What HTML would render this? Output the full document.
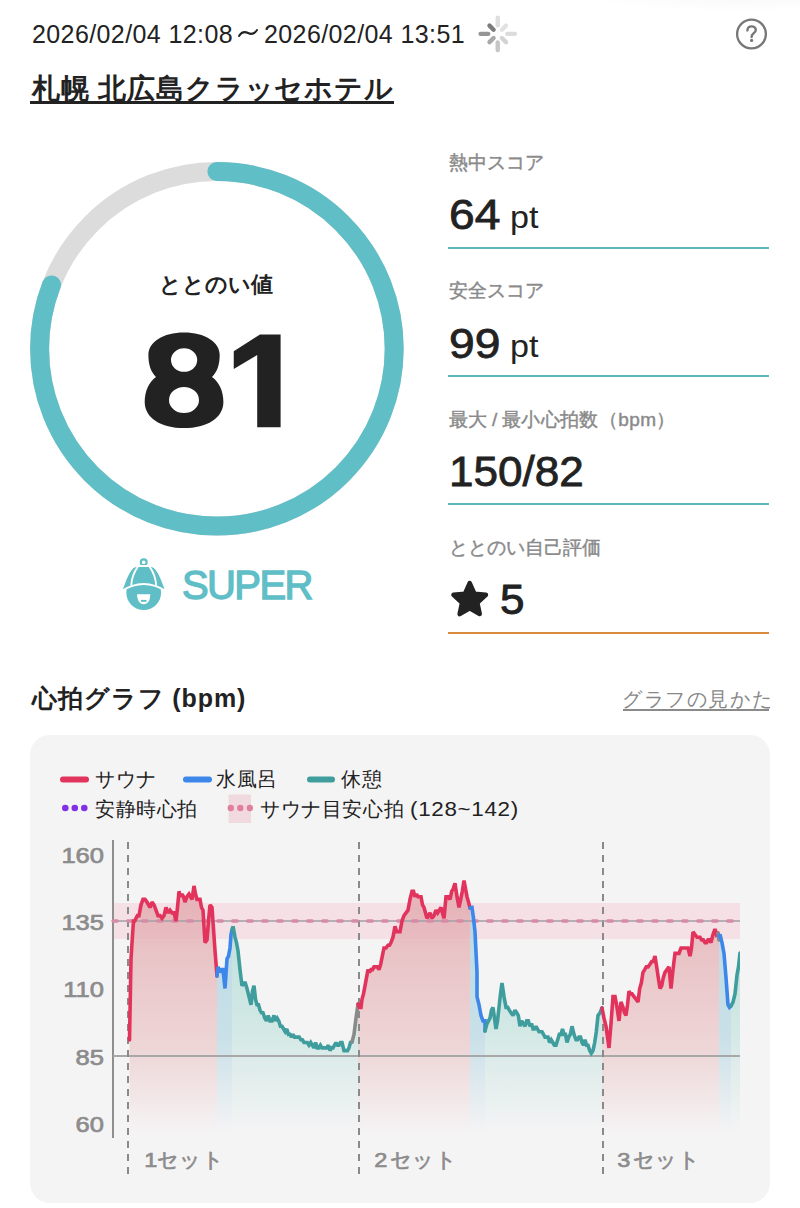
<!DOCTYPE html>
<html lang="ja">
<head>
<meta charset="utf-8">
<style>
html,body{margin:0;padding:0;background:#fff;}
body{width:800px;height:1208px;position:relative;overflow:hidden;font-family:"Liberation Sans",sans-serif;color:#222;}
.a{position:absolute;white-space:nowrap;line-height:1;}
#date,#date2{left:32px;top:21.5px;font-size:25px;color:#222;letter-spacing:0.4px;}
#date2{left:264px;}
#title{left:32px;top:75px;font-size:28px;font-weight:bold;color:#222;letter-spacing:0.85px;}
#title-ul{left:30px;top:101px;width:364px;height:3px;background:#222;}
.lbl{font-size:19px;color:#8a8a8a;left:449px;-webkit-text-stroke:0.45px #8a8a8a;}
.val{font-size:42px;font-weight:normal;-webkit-text-stroke:0.8px #222;left:449px;color:#222;transform:scaleX(1.1);transform-origin:0 0;}
.unit{font-size:31px;font-weight:normal;color:#222;transform:scaleX(1.1);transform-origin:0 0;}
.hr{position:absolute;left:448px;width:321px;height:2px;background:#5db6bc;}
#gl{left:32px;top:686px;font-size:25px;font-weight:bold;letter-spacing:0.9px;}
#howto{left:622px;top:689px;font-size:20.2px;color:#888;letter-spacing:1.6px;}
#howto-ul{left:623px;top:708.5px;width:146px;height:2px;background:#8a8a8a;}
#card{position:absolute;left:30px;top:735px;width:740px;height:468px;background:#f5f4f5;border-radius:20px;}
.lg{font-size:20px;color:#222;letter-spacing:0.6px;}
.ax{font-size:22px;font-weight:normal;-webkit-text-stroke:0.7px #8c8c8c;color:#8c8c8c;text-align:right;width:60px;left:44px;transform:scaleX(1.16);transform-origin:100% 0;}
.set{font-size:21px;font-weight:normal;-webkit-text-stroke:0.7px #8c8c8c;color:#8c8c8c;letter-spacing:0.3px;}
.set b{font-weight:normal;margin-right:3px;display:inline-block;transform:scaleX(1.12);}
</style>
</head>
<body>
<div class="a" style="left:560px;top:-30px;width:300px;height:42px;border-radius:50%;background:radial-gradient(ellipse at 60% 40%, rgba(0,0,0,0.045), rgba(0,0,0,0) 70%)"></div>
<div class="a" id="date">2026/02/04 12:08</div>
<svg class="a" style="left:236px;top:25.5px" width="24" height="14" viewBox="0 0 24 14"><path d="M3,10 C5.5,6 8.5,5.2 12,7 C15.5,8.8 18.5,8 21,4" fill="none" stroke="#222" stroke-width="2" stroke-linecap="round"/></svg>
<div class="a" id="date2">2026/02/04 13:51</div>
<svg class="a" style="left:478px;top:15px" width="40" height="40" viewBox="0 0 40 40">
  <g stroke-linecap="round" stroke-width="4.4">
    <line x1="19.75" y1="2.6" x2="19.75" y2="10.2" stroke="#dedede"/>
    <line x1="28.0" y1="10.6" x2="23.9" y2="14.7" stroke="#e2e2e2"/>
    <line x1="36.9" y1="18.85" x2="29.3" y2="18.85" stroke="#dcdcdc"/>
    <line x1="28.0" y1="27.1" x2="23.9" y2="23.0" stroke="#d4d4d4"/>
    <line x1="19.75" y1="35.1" x2="19.75" y2="27.5" stroke="#c6c6c6"/>
    <line x1="11.5" y1="27.1" x2="15.6" y2="23.0" stroke="#a9a9a9"/>
    <line x1="2.6" y1="18.85" x2="10.2" y2="18.85" stroke="#959595"/>
    <line x1="11.5" y1="10.6" x2="15.6" y2="14.7" stroke="#7c7c7c"/>
  </g>
</svg>
<svg class="a" style="left:734px;top:17px" width="36" height="36" viewBox="0 0 36 36">
  <circle cx="17.5" cy="17" r="14.4" fill="none" stroke="#777" stroke-width="2.3"/>
  <path d="M13.4,13.4 C13.4,10.8 15.2,9.4 17.6,9.4 C20.0,9.4 21.8,11.0 21.8,13.1 C21.8,15.1 20.4,15.9 19.2,16.7 C18.1,17.4 17.6,18.1 17.6,19.9" fill="none" stroke="#777" stroke-width="2.4" stroke-linecap="round"/>
  <circle cx="17.6" cy="23.4" r="1.6" fill="#777"/>
</svg>
<div class="a" id="title">札幌 北広島クラッセホテル</div>
<div class="a" id="title-ul"></div>

<!-- ring -->
<svg class="a" style="left:0;top:130px" width="430" height="420" viewBox="0 130 430 420">
  <circle cx="216.9" cy="348.8" r="177.3" fill="none" stroke="#dcdcdc" stroke-width="19"/>
  <circle cx="216.9" cy="348.8" r="177.3" fill="none" stroke="#5fbec6" stroke-width="19" stroke-linecap="round"
    stroke-dasharray="900.5 2000" transform="rotate(-90 216.9 348.8)"/>
</svg>
<div class="a" style="left:159px;top:274px;font-size:22px;font-weight:bold;color:#222">ととのい値</div>
<svg class="a" style="left:130px;top:320px" width="170" height="120" viewBox="130 320 170 120">
  <path fill-rule="evenodd" fill="#222" d="M184,332.5 C205,332.5 219.7,342 219.7,355 C219.7,365 217,372 212,377 C219,382 223.4,391 223.4,402 C223.4,418 207,428.1 184,428.1 C161,428.1 144.7,418 144.7,402 C144.7,391 149,382 156,377 C151,372 148.4,365 148.4,355 C148.4,342 163,332.5 184,332.5 Z M171,360.1 A13.1,11.75 0 1,0 197.2,360.1 A13.1,11.75 0 1,0 171,360.1 Z M169,400 A15,13.1 0 1,0 199,400 A15,13.1 0 1,0 169,400 Z"/>
  <path fill="#222" d="M233.75,351.25 L260,334.4 L280.6,334.4 L280.6,427.2 L257.2,427.2 L257.2,355 L233.75,369 Z"/>
</svg>

<!-- SUPER -->
<svg class="a" style="left:115px;top:550px" width="60" height="65" viewBox="115 550 60 65">
  <circle cx="143.7" cy="592.6" r="17.4" fill="#5fbec6"/>
  <path d="M137.1,594.2 L150.3,594.2 C150.3,600 147.9,604.2 143.7,604.2 C139.5,604.2 137.1,600 137.1,594.2 Z" fill="#fff"/>
  <rect x="140.9" y="599.9" width="5.6" height="1.9" fill="#5fbec6"/>
  <rect x="140.85" y="559.3" width="5.7" height="5.9" rx="2.6" fill="none" stroke="#5fbec6" stroke-width="2.2"/>
  <path d="M121,591.4 C124.5,583 127,572 133,567.3 Q134.5,566 137,566 L150.4,566 Q152.9,566 154.4,567.3 C160.4,572 162.9,583 166.4,591.4 Q143.7,576.6 121,591.4 Z" fill="#5fbec6" stroke="#fff" stroke-width="2" stroke-linejoin="round"/>
  <path d="M137.8,566.8 C134.2,571.8 131.6,578 131.2,585.6" fill="none" stroke="#fff" stroke-width="1.9"/>
  <path d="M149.6,566.8 C153.2,571.8 155.8,578 156.2,585.6" fill="none" stroke="#fff" stroke-width="1.9"/>
</svg>
<div class="a" style="left:182px;top:565px;font-size:40px;font-weight:normal;color:#5fbec6;-webkit-text-stroke:1.3px #5fbec6;letter-spacing:-1.6px">SUPER</div>

<!-- right column -->
<div class="a lbl" style="top:153px">熱中スコア</div>
<div class="a val" style="top:194px">64</div><div class="a unit" style="left:510px;top:202px">pt</div>
<div class="hr" style="top:247px"></div>
<div class="a lbl" style="top:281px">安全スコア</div>
<div class="a val" style="top:322.5px">99</div><div class="a unit" style="left:510px;top:330.5px">pt</div>
<div class="hr" style="top:375px"></div>
<div class="a lbl" style="top:410px"><span style="letter-spacing:0.4px">最大&thinsp;/&thinsp;最小心拍数（bpm）</span></div>
<div class="a val" style="top:450.5px;transform:scaleX(1.05)">150/82</div>
<div class="hr" style="top:503px"></div>
<div class="a lbl" style="top:538px">ととのい自己評価</div>
<svg class="a" style="left:448px;top:578px" width="44" height="42" viewBox="448 578 44 42">
  <polygon points="469.7,583.2 474.4,593.7 485.9,594.9 477.3,602.7 479.7,614.0 469.7,608.2 459.7,614.0 462.1,602.7 453.5,594.9 465.0,593.7" fill="#222" stroke="#222" stroke-width="4.6" stroke-linejoin="round"/>
</svg>
<div class="a" style="left:500px;top:579px;font-size:42px;color:#222;-webkit-text-stroke:0.9px #222;transform:scaleX(1.05);transform-origin:0 0">5</div>
<div class="hr" style="top:632px;background:#d98a3e"></div>

<div class="a" id="gl">心拍グラフ (bpm)</div>
<div class="a" id="howto">グラフの見かた</div>
<div class="a" id="howto-ul"></div>

<div id="card"></div>
<svg class="a" style="left:0;top:0" width="800" height="1208" viewBox="0 0 800 1208">
<defs>
<linearGradient id="gr" gradientUnits="userSpaceOnUse" x1="0" y1="890" x2="0" y2="1135"><stop offset="0" stop-color="#e6b3b9"/><stop offset="0.25" stop-color="#e9c3c6"/><stop offset="0.65" stop-color="#eed6d7" /><stop offset="1" stop-color="#f5f4f5"/></linearGradient>
<linearGradient id="gb" gradientUnits="userSpaceOnUse" x1="0" y1="890" x2="0" y2="1135"><stop offset="0" stop-color="#b9d9e4"/><stop offset="0.6" stop-color="#c9e0e8"/><stop offset="1" stop-color="#f5f4f5"/></linearGradient>
<linearGradient id="gt" gradientUnits="userSpaceOnUse" x1="0" y1="920" x2="0" y2="1135"><stop offset="0" stop-color="#bfe0dc"/><stop offset="0.5" stop-color="#d2e8e5"/><stop offset="1" stop-color="#f5f4f5"/></linearGradient>
<clipPath id="cp"><rect x="113" y="830" width="627" height="320"/></clipPath>
</defs>
<rect x="113" y="903" width="627" height="36" fill="#f6e6ea"/>
<g clip-path="url(#cp)">
<polygon points="129.5,1040 131,958.8 132.2,939.9 133.5,921 134.8,921 136,918.3 137.5,915.6 139,915.6 141,904.8 143,899.4 145,899.4 147,902.1 148.5,904.8 150,907.5 152,902.1 154,904.8 156,910.2 158,915.6 160,915.6 162,918.3 164,915.6 166,907.5 168,912.9 170,910.2 172,912.9 174,912.9 176,921 177.5,907.5 179,891.3 180.5,896.7 182,894 183.5,896.7 185,902.1 187,896.7 189,894 190.5,896.7 192,899.4 194,885.9 195.5,894 197,899.4 198.5,899.4 200,899.4 201.5,907.5 203,910.2 205,942.6 207,939.9 208.5,921 210,904.8 212,907.5 213.5,929.1 215,950.7 217,976 217,1140 129.5,1140" fill="url(#gr)"/>
<polygon points="217,976 218,966.9 219.7,972.3 221.3,969.6 223,969.6 225,988.5 227,958.8 228.5,956.1 230,948 231,934.5 232,930 232,1140 217,1140" fill="url(#gb)"/>
<polygon points="232,930 233,926.4 235,937.2 236.5,942.6 238,950.7 240,969.6 242,985.8 243.7,983.1 245.3,983.1 247,988.5 249,996.6 251,1004.7 252.5,991.2 254,985.8 255.5,999.3 257,1004.7 258.5,1004.7 260,1010.1 261.5,1012.8 263,1012.8 264.8,1018.2 266.5,1020.9 268.2,1015.5 270,1020.9 272,1020.9 274,1015.5 275.6,1020.9 277.2,1018.2 278.8,1020.9 280.4,1026.3 282,1026.3 283.6,1029 285.2,1031.7 286.8,1029 288.4,1034.4 290,1034.4 291.5,1037.1 293,1034.4 294.5,1037.1 296,1037.1 297.6,1037.1 299.2,1037.1 300.8,1039.8 302.4,1039.8 304,1042.5 305.7,1042.5 307.3,1042.5 309,1045.2 310.7,1042.5 312.3,1045.2 314,1047.9 315.6,1042.5 317.2,1047.9 318.8,1047.9 320.4,1045.2 322,1047.9 323.6,1047.9 325.2,1047.9 326.8,1047.9 328.4,1045.2 330,1050.6 331.5,1047.9 333,1047.9 334.5,1045.2 336,1042.5 337.5,1045.2 339,1045.2 340.5,1042.5 342,1042.5 344,1050.6 346,1050.6 347.5,1050.6 349,1047.9 350.5,1042.5 352,1042 352,1140 232,1140" fill="url(#gt)"/>
<polygon points="352,1042 354,1034.4 356,1018.2 358,1004 358,1140 352,1140" fill="url(#gt)"/>
<polygon points="358,1004 359.5,1007.4 361,1007.4 362,999.3 363.5,993.9 365,985.8 366.5,977.7 368,969.6 369.5,972.3 371,969.6 372.5,969.6 374,966.9 375.7,966.9 377.3,966.9 379,969.6 380.7,964.2 382.3,956.1 384,948 386,948 388,945.3 389.5,945.3 391,942.6 393,937.2 395,926.4 396.7,931.8 398.3,931.8 400,931.8 402,921 404,915.6 406,912.9 408,910.2 410,899.4 412,891.3 413.5,891.3 415,896.7 416.5,894 418,896.7 419.5,896.7 421,896.7 422.5,904.8 424,907.5 425.5,912.9 427,918.3 428.5,915.6 430,912.9 432,918.3 434,915.6 436,910.2 437.7,912.9 439.3,910.2 441,907.5 442.5,912.9 444,918.3 446,896.7 448,896.7 450,899.4 451.7,891.3 453.3,888.6 455,883.2 457,896.7 459,907.5 460.7,899.4 462.3,891.3 464,880.5 465.5,888.6 467,896.7 468.5,902.1 470,908 470,1140 358,1140" fill="url(#gr)"/>
<polygon points="470,908 472,907.5 473.5,918.3 475,931.8 477,972.3 477,996.6 479,1004.7 481,1015.5 483,1020.9 485,1020.9 485,1031 485,1140 470,1140" fill="url(#gb)"/>
<polygon points="485,1031 487,1023.6 488.5,1020.9 490,1018.2 491.5,1010.1 493,1007.4 494.5,1018.2 496,1029 497.5,1020.9 499,1007.4 500.5,993.9 502,983.1 504,996.6 506,1007.4 507.7,1007.4 509.3,1010.1 511,1012.8 513,1015.5 515,1010.1 516.7,1012.8 518.3,1015.5 520,1026.3 521.7,1020.9 523.3,1023.6 525,1026.3 526.7,1020.9 528.3,1020.9 530,1026.3 531.5,1023.6 533,1029 534.5,1029 536,1026.3 537.5,1029 539,1031.7 540.5,1031.7 542,1031.7 543.5,1034.4 545,1037.1 546.5,1037.1 548,1037.1 549.6,1042.5 551.2,1039.8 552.8,1042.5 554.4,1045.2 556,1045.2 557.7,1039.8 559.3,1034.4 561,1034.4 562.5,1029 564,1034.4 565.5,1034.4 567,1042.5 568.7,1037.1 570.3,1034.4 572,1026.3 574,1034.4 576,1039.8 577.5,1039.8 579,1037.1 580.5,1037.1 582,1042.5 583.5,1045.2 585,1039.8 586.5,1045.2 588,1045.2 589.7,1050.6 591.3,1053.3 593,1050.6 594.7,1042.5 596.3,1031.7 598,1015.5 600,1012.8 602,1008 602,1140 485,1140" fill="url(#gt)"/>
<polygon points="602,1008 604,1018.2 606,1026.3 607.5,1037.1 609,1047.9 611,1023.6 613,996.6 615,996.6 617,1007.4 619,1020.9 621,1002 623,1007.4 624.5,1012.8 626,1015.5 627.5,1004.7 629,991.2 630.5,993.9 632,993.9 634,996.6 636,999.3 638,1002 639.7,988.5 641.3,983.1 643,972.3 644.7,969.6 646.3,966.9 648,966.9 650,964.2 651.7,961.5 653.3,961.5 655,956.1 656.7,966.9 658.3,977.7 660,988.5 661.7,985.8 663.3,977.7 665,972.3 667,969.6 669,966.9 671,988.5 673,969.6 675,953.4 677,953.4 679,953.4 681,948 682.5,948 684,948 686,948 688,948 690,956.1 691.5,948 693,931.8 695,934.5 697,937.2 698.5,937.2 700,937.2 701.7,939.9 703.3,939.9 705,942.6 706.5,942.6 708,939.9 709.5,939.9 711,942.6 713,934.5 715,929.1 716.5,934.5 718,933 718,1140 602,1140" fill="url(#gr)"/>
<polygon points="718,933 719,940 719,1140 718,1140" fill="url(#gr)"/>
<polygon points="719,936 720,934.5 722,942.6 724,953.4 726,977.7 728,1004.7 729.5,1007.4 731,1006 731,1140 719,1140" fill="url(#gb)"/>
<polygon points="731,1006 733,1002 735,993.9 737,975 738.5,966.9 740,953 740,1140 731,1140" fill="url(#gt)"/>
</g>
<rect x="113" y="903" width="627" height="36" fill="#d88a9a" fill-opacity="0.06"/>
<line x1="113" y1="840" x2="113" y2="1138" stroke="#8f8f8f" stroke-width="2"/>
<line x1="113" y1="1056" x2="740" y2="1056" stroke="#a8a8a8" stroke-width="2"/>
<line x1="128" y1="842" x2="128" y2="1176" stroke="#8a8a8a" stroke-width="2" stroke-dasharray="7 6"/>
<line x1="359" y1="842" x2="359" y2="1176" stroke="#8a8a8a" stroke-width="2" stroke-dasharray="7 6"/>
<line x1="603" y1="842" x2="603" y2="1176" stroke="#8a8a8a" stroke-width="2" stroke-dasharray="7 6"/>
<line x1="113" y1="921" x2="740" y2="921" stroke="#a0a0a6" stroke-width="1.6"/>
<line x1="113" y1="921" x2="740" y2="921" stroke="#d68ba6" stroke-width="3.4" stroke-dasharray="4.5 10.5" stroke-dashoffset="0.3" stroke-linecap="round"/>
<g fill="none" stroke-width="3.6" stroke-linejoin="miter" stroke-miterlimit="2" stroke-linecap="round" clip-path="url(#cp)">
<polyline points="129.5,1040 131,958.8 132.2,939.9 133.5,921 134.8,921 136,918.3 137.5,915.6 139,915.6 141,904.8 143,899.4 145,899.4 147,902.1 148.5,904.8 150,907.5 152,902.1 154,904.8 156,910.2 158,915.6 160,915.6 162,918.3 164,915.6 166,907.5 168,912.9 170,910.2 172,912.9 174,912.9 176,921 177.5,907.5 179,891.3 180.5,896.7 182,894 183.5,896.7 185,902.1 187,896.7 189,894 190.5,896.7 192,899.4 194,885.9 195.5,894 197,899.4 198.5,899.4 200,899.4 201.5,907.5 203,910.2 205,942.6 207,939.9 208.5,921 210,904.8 212,907.5 213.5,929.1 215,950.7 217,976" stroke="#e2335c"/>
<polyline points="217,976 218,966.9 219.7,972.3 221.3,969.6 223,969.6 225,988.5 227,958.8 228.5,956.1 230,948 231,934.5 232,930" stroke="#3d86ea"/>
<polyline points="232,930 233,926.4 235,937.2 236.5,942.6 238,950.7 240,969.6 242,985.8 243.7,983.1 245.3,983.1 247,988.5 249,996.6 251,1004.7 252.5,991.2 254,985.8 255.5,999.3 257,1004.7 258.5,1004.7 260,1010.1 261.5,1012.8 263,1012.8 264.8,1018.2 266.5,1020.9 268.2,1015.5 270,1020.9 272,1020.9 274,1015.5 275.6,1020.9 277.2,1018.2 278.8,1020.9 280.4,1026.3 282,1026.3 283.6,1029 285.2,1031.7 286.8,1029 288.4,1034.4 290,1034.4 291.5,1037.1 293,1034.4 294.5,1037.1 296,1037.1 297.6,1037.1 299.2,1037.1 300.8,1039.8 302.4,1039.8 304,1042.5 305.7,1042.5 307.3,1042.5 309,1045.2 310.7,1042.5 312.3,1045.2 314,1047.9 315.6,1042.5 317.2,1047.9 318.8,1047.9 320.4,1045.2 322,1047.9 323.6,1047.9 325.2,1047.9 326.8,1047.9 328.4,1045.2 330,1050.6 331.5,1047.9 333,1047.9 334.5,1045.2 336,1042.5 337.5,1045.2 339,1045.2 340.5,1042.5 342,1042.5 344,1050.6 346,1050.6 347.5,1050.6 349,1047.9 350.5,1042.5 352,1042" stroke="#3f9d9d"/>
<polyline points="352,1042 354,1034.4 356,1018.2 358,1004" stroke="#8a8a8a"/>
<polyline points="358,1004 359.5,1007.4 361,1007.4 362,999.3 363.5,993.9 365,985.8 366.5,977.7 368,969.6 369.5,972.3 371,969.6 372.5,969.6 374,966.9 375.7,966.9 377.3,966.9 379,969.6 380.7,964.2 382.3,956.1 384,948 386,948 388,945.3 389.5,945.3 391,942.6 393,937.2 395,926.4 396.7,931.8 398.3,931.8 400,931.8 402,921 404,915.6 406,912.9 408,910.2 410,899.4 412,891.3 413.5,891.3 415,896.7 416.5,894 418,896.7 419.5,896.7 421,896.7 422.5,904.8 424,907.5 425.5,912.9 427,918.3 428.5,915.6 430,912.9 432,918.3 434,915.6 436,910.2 437.7,912.9 439.3,910.2 441,907.5 442.5,912.9 444,918.3 446,896.7 448,896.7 450,899.4 451.7,891.3 453.3,888.6 455,883.2 457,896.7 459,907.5 460.7,899.4 462.3,891.3 464,880.5 465.5,888.6 467,896.7 468.5,902.1 470,908" stroke="#e2335c"/>
<polyline points="470,908 472,907.5 473.5,918.3 475,931.8 477,972.3 477,996.6 479,1004.7 481,1015.5 483,1020.9 485,1020.9 485,1031" stroke="#3d86ea"/>
<polyline points="485,1031 487,1023.6 488.5,1020.9 490,1018.2 491.5,1010.1 493,1007.4 494.5,1018.2 496,1029 497.5,1020.9 499,1007.4 500.5,993.9 502,983.1 504,996.6 506,1007.4 507.7,1007.4 509.3,1010.1 511,1012.8 513,1015.5 515,1010.1 516.7,1012.8 518.3,1015.5 520,1026.3 521.7,1020.9 523.3,1023.6 525,1026.3 526.7,1020.9 528.3,1020.9 530,1026.3 531.5,1023.6 533,1029 534.5,1029 536,1026.3 537.5,1029 539,1031.7 540.5,1031.7 542,1031.7 543.5,1034.4 545,1037.1 546.5,1037.1 548,1037.1 549.6,1042.5 551.2,1039.8 552.8,1042.5 554.4,1045.2 556,1045.2 557.7,1039.8 559.3,1034.4 561,1034.4 562.5,1029 564,1034.4 565.5,1034.4 567,1042.5 568.7,1037.1 570.3,1034.4 572,1026.3 574,1034.4 576,1039.8 577.5,1039.8 579,1037.1 580.5,1037.1 582,1042.5 583.5,1045.2 585,1039.8 586.5,1045.2 588,1045.2 589.7,1050.6 591.3,1053.3 593,1050.6 594.7,1042.5 596.3,1031.7 598,1015.5 600,1012.8 602,1008" stroke="#3f9d9d"/>
<polyline points="602,1008 604,1018.2 606,1026.3 607.5,1037.1 609,1047.9 611,1023.6 613,996.6 615,996.6 617,1007.4 619,1020.9 621,1002 623,1007.4 624.5,1012.8 626,1015.5 627.5,1004.7 629,991.2 630.5,993.9 632,993.9 634,996.6 636,999.3 638,1002 639.7,988.5 641.3,983.1 643,972.3 644.7,969.6 646.3,966.9 648,966.9 650,964.2 651.7,961.5 653.3,961.5 655,956.1 656.7,966.9 658.3,977.7 660,988.5 661.7,985.8 663.3,977.7 665,972.3 667,969.6 669,966.9 671,988.5 673,969.6 675,953.4 677,953.4 679,953.4 681,948 682.5,948 684,948 686,948 688,948 690,956.1 691.5,948 693,931.8 695,934.5 697,937.2 698.5,937.2 700,937.2 701.7,939.9 703.3,939.9 705,942.6 706.5,942.6 708,939.9 709.5,939.9 711,942.6 713,934.5 715,929.1 716.5,934.5 718,933" stroke="#e2335c"/>
<polyline points="718,933 719,940" stroke="#8a8a8a"/>
<polyline points="719,936 720,934.5 722,942.6 724,953.4 726,977.7 728,1004.7 729.5,1007.4 731,1006" stroke="#3d86ea"/>
<polyline points="731,1006 733,1002 735,993.9 737,975 738.5,966.9 740,953" stroke="#3f9d9d"/>
</g>
</svg>
<div class="a lg" style="left:95px;top:769px">サウナ</div>
<div class="a lg" style="left:216px;top:769px">水風呂</div>
<div class="a lg" style="left:341px;top:769px">休憩</div>
<div class="a lg" style="left:95px;top:799px">安静時心拍</div>
<div class="a lg" style="left:260px;top:799px">サウナ目安心拍 <span style="display:inline-block;transform:scaleX(1.12);transform-origin:0 0">(128~142)</span></div>
<svg class="a" style="left:0;top:740px" width="800" height="100" viewBox="0 740 800 100">
  <line x1="63" y1="779.5" x2="86" y2="779.5" stroke="#e2335c" stroke-width="6" stroke-linecap="round"/>
  <line x1="186" y1="779.5" x2="209" y2="779.5" stroke="#3d86ea" stroke-width="6" stroke-linecap="round"/>
  <line x1="310" y1="779.5" x2="332" y2="779.5" stroke="#3f9d9d" stroke-width="6" stroke-linecap="round"/>
  <g fill="#8230e6"><circle cx="65.3" cy="808" r="3.3"/><circle cx="74.8" cy="808" r="3.3"/><circle cx="84.3" cy="808" r="3.3"/></g>
  <rect x="228.5" y="794.5" width="22.5" height="28.5" fill="#f1d9e0"/>
  <g fill="#e0809c"><circle cx="230.8" cy="808" r="3.2"/><circle cx="240.3" cy="808" r="3.2"/><circle cx="249.8" cy="808" r="3.2"/></g>
</svg>
<div class="a ax" style="top:844.5px">160</div>
<div class="a ax" style="top:911.5px">135</div>
<div class="a ax" style="top:979px">110</div>
<div class="a ax" style="top:1046.5px">85</div>
<div class="a ax" style="top:1113.5px">60</div>
<div class="a set" style="left:145px;top:1148.5px"><b style="margin-right:0">1</b>セット</div>
<div class="a set" style="left:375px;top:1148.5px"><b>2</b>セット</div>
<div class="a set" style="left:618px;top:1148.5px"><b>3</b>セット</div>
</body>
</html>
